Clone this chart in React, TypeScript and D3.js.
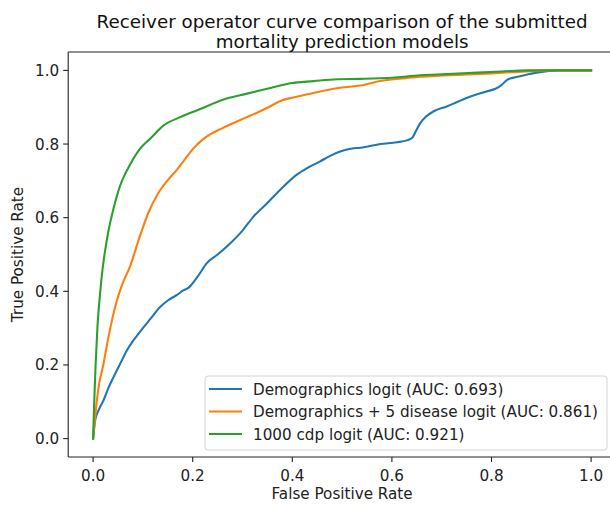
import React from "react";
import * as d3 from "d3";

const TITLE_LINES = ["Receiver operator curve comparison of the submitted", "mortality prediction models"];
const X_LABEL = "False Positive Rate";
const Y_LABEL = "True Positive Rate";
const TICKS = [0, 0.2, 0.4, 0.6, 0.8, 1.0];

const SERIES_NAMES = [
  "Demographics logit (AUC: 0.693)",
  "Demographics + 5 disease logit (AUC: 0.861)",
  "1000 cdp logit (AUC: 0.921)",
];
const COLORS = ["#1f77b4", "#ff7f0e", "#2ca02c"];

const demoFpr = [0, 0.004, 0.012, 0.021, 0.03, 0.041, 0.055, 0.068, 0.08, 0.094, 0.115, 0.135, 0.15, 0.168, 0.182, 0.192, 0.21, 0.228, 0.25, 0.275, 0.3, 0.322, 0.35, 0.376, 0.409, 0.43, 0.456, 0.476, 0.496, 0.52, 0.537, 0.577, 0.61, 0.63, 0.641, 0.648, 0.657, 0.668, 0.684, 0.71, 0.731, 0.75, 0.771, 0.79, 0.808, 0.82, 0.832, 0.85, 0.872, 0.89, 0.912, 0.93, 0.96, 1.0];
const demoTpr = [0, 0.049, 0.08, 0.104, 0.135, 0.167, 0.205, 0.24, 0.265, 0.29, 0.325, 0.358, 0.375, 0.39, 0.403, 0.41, 0.44, 0.476, 0.5, 0.53, 0.565, 0.603, 0.64, 0.676, 0.717, 0.735, 0.753, 0.768, 0.78, 0.788, 0.79, 0.8, 0.805, 0.81, 0.817, 0.835, 0.857, 0.874, 0.889, 0.902, 0.914, 0.925, 0.935, 0.943, 0.95, 0.96, 0.975, 0.982, 0.989, 0.994, 0.998, 1.0, 1.0, 1.0];

const disFpr = [0, 0.004, 0.011, 0.021, 0.03, 0.041, 0.05, 0.058, 0.074, 0.094, 0.11, 0.131, 0.15, 0.168, 0.185, 0.202, 0.218, 0.235, 0.258, 0.282, 0.305, 0.329, 0.352, 0.376, 0.4, 0.43, 0.46, 0.496, 0.537, 0.577, 0.62, 0.657, 0.7, 0.751, 0.8, 0.838, 0.88, 0.919, 1.0];
const disTpr = [0, 0.058, 0.14, 0.204, 0.27, 0.34, 0.385, 0.417, 0.467, 0.55, 0.61, 0.667, 0.702, 0.73, 0.76, 0.789, 0.81, 0.826, 0.842, 0.857, 0.871, 0.885, 0.9, 0.917, 0.926, 0.935, 0.944, 0.953, 0.959, 0.971, 0.978, 0.983, 0.986, 0.989, 0.992, 0.995, 0.998, 1.0, 1.0];

const cdpFpr = [0, 0.002, 0.005, 0.009, 0.014, 0.019, 0.024, 0.031, 0.041, 0.048, 0.054, 0.064, 0.074, 0.094, 0.115, 0.141, 0.175, 0.215, 0.262, 0.309, 0.356, 0.396, 0.443, 0.49, 0.537, 0.6, 0.657, 0.71, 0.771, 0.82, 0.872, 1.0];
const cdpTpr = [0, 0.09, 0.2, 0.31, 0.394, 0.46, 0.51, 0.565, 0.625, 0.66, 0.686, 0.718, 0.744, 0.787, 0.815, 0.85, 0.873, 0.895, 0.921, 0.937, 0.952, 0.965, 0.971, 0.976, 0.977, 0.98, 0.987, 0.99, 0.994, 0.997, 1.0, 1.0];

const FPRS = [demoFpr, disFpr, cdpFpr];
const TPRS = [demoTpr, disTpr, cdpTpr];

const W = 610;
const H = 505;
const FONT = "DejaVu Sans, sans-serif";

export default function App() {
  const left = 68.2;
  const right = 616;
  const top = 52;
  const bottom = 457;
  const x = d3.scaleLinear().domain([-0.05, 1.05]).range([left, right]);
  const y = d3.scaleLinear().domain([-0.05, 1.05]).range([bottom, top]);
  const line = d3
    .line<[number, number]>()
    .x((d) => x(d[0]))
    .y((d) => y(d[1]))
    .curve(d3.curveMonotoneX);

  const legendX = 205;
  const legendY = 376;
  const legendW = 402;
  const legendH = 74;
  const rowY = [389, 411.5, 434];

  return (
    <svg
      width={W}
      height={H}
      style={{ position: "absolute", left: 0, top: 0, background: "#fff" }}
      fontFamily={FONT}
    >
      <rect x={0} y={0} width={W} height={H} fill="#fff" />
      <defs>
        <clipPath id="plotclip">
          <rect x={left} y={top} width={right - left} height={bottom - top} />
        </clipPath>
      </defs>
      {TITLE_LINES.map((t, i) => (
        <text
          key={t}
          x={(left + right) / 2}
          y={28 + i * 20}
          textAnchor="middle"
          fontSize={18.3}
          fill="#111"
        >
          {t}
        </text>
      ))}
      <g clipPath="url(#plotclip)">
        {FPRS.map((fpr, i) => (
          <path
            key={i}
            d={line(fpr.map((v, j) => [v, TPRS[i][j]] as [number, number])) || ""}
            fill="none"
            stroke={COLORS[i]}
            strokeWidth={2.1}
            strokeLinejoin="round"
            strokeLinecap="square"
          />
        ))}
      </g>
      {/* spines */}
      <line x1={left} x2={right} y1={top} y2={top} stroke="#222" strokeWidth={1.1} />
      <line x1={left} x2={right} y1={bottom} y2={bottom} stroke="#222" strokeWidth={1.1} />
      <line x1={left} x2={left} y1={top} y2={bottom} stroke="#222" strokeWidth={1.1} />
      <line x1={right} x2={right} y1={top} y2={bottom} stroke="#222" strokeWidth={1.1} />
      {/* x ticks */}
      {TICKS.map((t) => (
        <g key={"x" + t}>
          <line x1={x(t)} x2={x(t)} y1={bottom} y2={bottom + 5} stroke="#222" strokeWidth={1.1} />
          <text x={x(t)} y={bottom + 24} textAnchor="middle" fontSize={15.2} fill="#222">
            {t.toFixed(1)}
          </text>
        </g>
      ))}
      {/* y ticks */}
      {TICKS.map((t) => (
        <g key={"y" + t}>
          <line x1={left - 5} x2={left} y1={y(t)} y2={y(t)} stroke="#222" strokeWidth={1.1} />
          <text x={left - 9} y={y(t) + 5.5} textAnchor="end" fontSize={15.2} fill="#222">
            {t.toFixed(1)}
          </text>
        </g>
      ))}
      <text x={(left + right) / 2} y={499} textAnchor="middle" fontSize={15.2} fill="#222">
        {X_LABEL}
      </text>
      <text
        transform={`translate(23, ${(top + bottom) / 2}) rotate(-90)`}
        textAnchor="middle"
        fontSize={15.2}
        fill="#222"
      >
        {Y_LABEL}
      </text>
      {/* legend */}
      <rect
        x={legendX}
        y={legendY}
        width={legendW}
        height={legendH}
        rx={3}
        fill="#fff"
        fillOpacity={0.8}
        stroke="#d4d4d4"
        strokeWidth={1}
      />
      {SERIES_NAMES.map((n, i) => (
        <g key={n}>
          <line x1={209} x2={242} y1={rowY[i]} y2={rowY[i]} stroke={COLORS[i]} strokeWidth={2.1} />
          <text x={253} y={rowY[i] + 5.5} fontSize={15.2} fill="#222">
            {n}
          </text>
        </g>
      ))}
    </svg>
  );
}
